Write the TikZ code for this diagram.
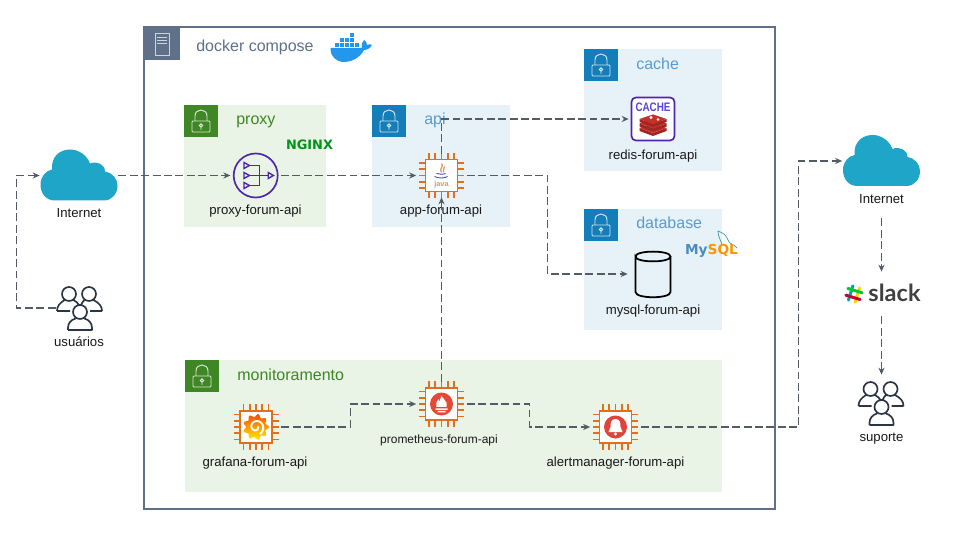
\documentclass[tikz,border=0pt]{standalone}
\usepackage{fontspec}
\usetikzlibrary{arrows.meta}
\setmainfont{Liberation Sans}
\newfontfamily\logofont{DejaVu Sans}
\newfontfamily\slackfont{Lato}

\definecolor{framegray}{HTML}{5F7089}
\definecolor{linegray}{HTML}{545B64}
\definecolor{inkdark}{HTML}{2B3644}
\definecolor{greenbadge}{HTML}{3F8624}
\definecolor{greenfill}{HTML}{E9F3E6}
\definecolor{bluebadge}{HTML}{147EBA}
\definecolor{bluefill}{HTML}{E6F2F8}
\definecolor{bluetext}{HTML}{5A9BCF}
\definecolor{chiporange}{HTML}{E0701E}
\definecolor{lbpurple}{HTML}{4D27AA}
\definecolor{cloudblue}{HTML}{1EA5C8}
\definecolor{whaleblue}{HTML}{2396ED}
\definecolor{alertred}{HTML}{E0433B}
\definecolor{redisred}{HTML}{C6302B}

\tikzset{
  link/.style={draw=linegray, line width=0.65pt, dash pattern=on 4.5pt off 2pt, -{Stealth[length=4pt,width=3.5pt]}},
  iconnode/.style={inner sep=0, minimum width=1cm, minimum height=1cm},
  caption/.style={font=\fontsize{7.5}{9}\selectfont, text=black!90, inner sep=0, anchor=base},
  grouptitle/.style={font=\fontsize{9.1}{11}\selectfont, anchor=base west, inner sep=0},
  pics/lockbadge/.style={code={
    \fill[#1] (0,0) rectangle (34,32);
    \draw[white, opacity=0.8, line width=0.55pt, rounded corners=0.6pt] (8,16) rectangle (26,27);
    \draw[white, opacity=0.8, line width=0.55pt] (11,16) -- (11,11) .. controls (11,3) and (23,3) .. (23,11) -- (23,16);
    \draw[white, opacity=0.8, line width=0.55pt] (17,20.5) circle (1.6) (17,22) -- (17,25);
  }},
  pics/chip/.style={code={
    \foreach \p in {-12.5,-6.25,0,6.25,12.5} {
      \draw[chiporange, line width=0.95pt] (\p,-22.5) -- (\p,22.5);
      \draw[chiporange, line width=0.95pt] (-22.5,\p) -- (22.5,\p);
    }
    \draw[chiporange, line width=1pt, fill=white] (-16,-16) rectangle (16,16);
  }},
  pics/cloudicon/.style={code={
    \fill[cloudblue] (-24,25) .. controls (-33,25) and (-38.5,18) .. (-38.5,9)
      .. controls (-38.5,1) and (-33,-5) .. (-27,-6)
      .. controls (-28,-18) and (-20,-26) .. (-9,-26)
      .. controls (0,-26) and (8,-20) .. (11,-12)
      .. controls (18,-15) and (26,-11) .. (26,-4)
      .. controls (33,-3) and (38.5,3) .. (38.5,10)
      .. controls (38.5,18) and (33,25) .. (25,25) -- cycle;
  }},
  pics/peopleicon/.style={code={
    \draw[inkdark, line width=0.95pt, line join=round]
      (-11,-14) circle (7) (9,-14) circle (7) (0,4) circle (7)
      (-12,22) -- (12,22) -- (12,20) .. controls (12,15) and (9,12) .. (4.5,10.5)
      (-4.5,10.5) .. controls (-9,12) and (-12,15) .. (-12,20) -- (-12,22)
      (-23,3) -- (-10,3) (-23,3) .. controls (-23,-2) and (-20,-5) .. (-15.5,-8)
      (-6.5,-8) .. controls (-4,-6.5) and (-2,-5) .. (-1,-3)
      (22,3) -- (10,3) (22,3) .. controls (22,-2) and (19,-5) .. (13.5,-8)
      (4.5,-8) .. controls (3,-7) and (2,-5) .. (1,-3);
  }},
}

\begin{document}
\begin{tikzpicture}[x=0.02cm, y=-0.02cm]
  \useasboundingbox (0,0) rectangle (960,540);

  % docker frame
  \draw[framegray, line width=0.6pt] (144,27) rectangle (775,509);
  \fill[framegray] (144,27) rectangle (180,60);
  \draw[white, opacity=0.7, line width=0.5pt] (155,33) rectangle (169,55);
  \draw[white, opacity=0.7, line width=0.5pt] (157,37) -- (167,37) (157,40) -- (167,40) (157,43) -- (167,43);
  \node [grouptitle, text=framegray](dockertitle) at (196,51.7) {docker compose};

  % whale
  \fill[whaleblue] (330.5,48) -- (362,48) .. controls (361,45) and (362,42) .. (364,40)
    .. controls (366,41) and (367,43) .. (367,45) .. controls (369,44) and (371,44) .. (372,45)
    .. controls (370,49) and (366,50) .. (364,50) .. controls (360,58) and (351,62) .. (344,62)
    .. controls (336,62) and (330,56) .. (330.5,48) -- cycle;
  \foreach \cx/\cy in {335/43,340/43,345/43,350/43,355/43,340/38,345/38,350/38,350/33}
    \fill[whaleblue] (\cx,\cy) rectangle +(4,4);

  % groups
  \fill[greenfill] (184,105) rectangle (326,227);
  \fill[bluefill] (372,105) rectangle (510,227);
  \fill[bluefill] (584,49) rectangle (722,171);
  \fill[bluefill] (584,209) rectangle (722,330);
  \fill[greenfill] (185,360) rectangle (722,492);
  \pic at (184,105) {lockbadge=greenbadge};
  \pic at (372,105) {lockbadge=bluebadge};
  \pic at (584,49) {lockbadge=bluebadge};
  \pic at (584,209) {lockbadge=bluebadge};
  \pic at (185,360) {lockbadge=greenbadge};
  \node [grouptitle, text=greenbadge](proxytitle) at (236,125) {proxy};
  \node [grouptitle, text=bluetext](apititle) at (424,125) {api};
  \node [grouptitle, text=bluetext](cachetitle) at (636,69.3) {cache};
  \node [grouptitle, text=bluetext](databasetitle) at (636,229) {database};
  \node [grouptitle, text=greenbadge](monitortitle) at (237,380) {monitoramento};

  % icon nodes
  \node [iconnode, minimum width=1.56cm](inetleft) at (79,175.5) {};
  \node [iconnode, minimum width=1.56cm](inetright) at (881.5,161) {};
  \node [iconnode, minimum width=0.96cm, minimum height=0.86cm](usuarios) at (80,308) {};
  \node [iconnode, minimum width=0.96cm, minimum height=1.12cm](suporte) at (881.5,403) {};
  \node [iconnode, minimum width=1.52cm, minimum height=0.88cm](slack) at (881.5,294) {};
  \node [iconnode](proxy) at (255.7,175.5) {};
  \node [iconnode, minimum height=0.86cm](app) at (441.5,175.5) {};
  \node [iconnode, minimum width=0.96cm](redis) at (653,119) {};
  \node [iconnode](mysql) at (653,274) {};
  \node [iconnode](grafana) at (256,427) {};
  \node [iconnode, minimum height=0.88cm](prometheus) at (441.5,404) {};
  \node [iconnode](alertmanager) at (615.5,427) {};

  \pic at (inetleft) {cloudicon};
  \pic at (inetright) {cloudicon};
  \pic at (usuarios) {peopleicon};
  \pic at (suporte) {peopleicon};
  \pic at (app) {chip};
  \pic at (grafana) {chip};
  \pic at (prometheus) {chip};
  \pic at (alertmanager) {chip};

  % nlb icon
  \begin{scope}[shift={(proxy)}]
    \draw[lbpurple, line width=0.95pt] (0,0) circle (22);
    \draw[lbpurple, line width=0.8pt] (-6,-10) -- (3.7,-10) -- (3.7,10) -- (-6,10) (-6,0) -- (12.5,0);
    \foreach \ty in {-10,0,10}
      \draw[lbpurple, line width=0.8pt] (-11.7,\ty-3) -- (-6.3,\ty) -- (-11.7,\ty+3) -- cycle;
    \draw[lbpurple, line width=0.8pt] (12.5,-3) -- (17.7,0) -- (12.5,3) -- cycle;
  \end{scope}
  \node [font=\logofont\bfseries\fontsize{7.35}{9}\selectfont, text=green!60!black!80!teal, inner sep=0, anchor=base](nginxlogo) at (309.5,149.5) {NGINX};

  % java
  \begin{scope}[shift={(app)}]
    \draw[blue!45!gray, line width=0.5pt] (-7,1) .. controls (-3,3) and (3,3) .. (6,1) (-5,-2) .. controls (-2,-1) and (2,-1) .. (4,-2);
    \draw[chiporange!75, line width=0.7pt] (0,-12) .. controls (3,-9) and (-3,-7) .. (0,-3) (3,-9) .. controls (1,-7) and (3,-5) .. (2,-3);
    \node [font=\bfseries\fontsize{4.2}{5}\selectfont, text=chiporange!75, inner sep=0](javalogo) at (0,9) {java};
  \end{scope}

  % redis
  \begin{scope}[shift={(redis)}]
    \draw[lbpurple, line width=0.95pt, fill=white, rounded corners=2.5pt] (-21.5,-21.5) rectangle (21.5,21.5);
    \node [font=\bfseries\fontsize{7}{8}\selectfont, text=lbpurple!60!blue!80!white, inner sep=0](cachelogo) at (0,-11.5) {\scalebox{0.8}[1]{CACHE}};
    \foreach \sy in {9,4.5,0} {
      \fill[redisred!80!black] (-13.5,\sy) -- (0,\sy+5) -- (13.5,\sy) -- (13.5,\sy+3) -- (0,\sy+8) -- (-13.5,\sy+3) -- cycle;
      \fill[redisred] (-13.5,\sy) -- (0,\sy-4.5) -- (13.5,\sy) -- (0,\sy+5) -- cycle;
    }
    \fill[white] (-2,-1.5) circle (1.7) (5,0.5) circle (1.3);
  \end{scope}

  % mysql cylinder
  \begin{scope}[shift={(mysql)}]
    \draw[black, line width=1pt] (-17.5,-17.5) .. controls (-17.5,-24) and (17.5,-24) .. (17.5,-17.5)
      .. controls (17.5,-11) and (-17.5,-11) .. (-17.5,-17.5) -- (-17.5,18)
      .. controls (-17.5,25) and (17.5,25) .. (17.5,18) -- (17.5,-17.5);
  \end{scope}
  \draw[cloudblue!60!gray, line width=0.4pt] (718,231) .. controls (722,233) and (725,233) .. (728,240)
    .. controls (729,244) and (734,244) .. (737,248) (718,231) .. controls (718,237) and (721,240) .. (722,245);
  \node [font=\logofont\bfseries\fontsize{7.8}{9}\selectfont, inner sep=0, anchor=base](mysqllogo) at (711.5,255) {\textcolor{blue!30!teal!70!white}{My}\textcolor{orange!85!yellow}{SQL}};

  % grafana
  \begin{scope}[shift={(grafana)}]
    \shade[top color=orange!60!red, bottom color=yellow!85!orange] plot[domain=0:360, samples=97, variable=\t, smooth cycle]
      ({(11.5+1.5*cos(9*\t))*cos(\t)}, {(11.5+1.5*cos(9*\t))*sin(\t)});
    \draw[white, line width=1.1pt] plot[domain=-20:420, samples=40, variable=\t]
      ({(2+\t/70)*cos(\t)}, {(2+\t/70)*sin(\t)});
  \end{scope}

  % prometheus
  \begin{scope}[shift={(prometheus)}]
    \fill[alertred!90!orange] (0,0) circle (11.5);
    \fill[white] (0,-8.5) .. controls (1,-5) and (3,-6) .. (3,-4) .. controls (5,-3) and (6,0) .. (5,3)
      -- (-5,3) .. controls (-6,0) and (-5,-3) .. (-3,-5) .. controls (-3,-3) and (-2,-2) .. (-2,-3) .. controls (-2,-5) and (0,-6) .. (0,-8.5) -- cycle;
    \fill[white] (-6,4.3) rectangle (6,5.8) (-4,6.8) rectangle (4,8.3);
  \end{scope}

  % bell
  \begin{scope}[shift={(alertmanager)}]
    \fill[alertred] (0,0) circle (11.5);
    \fill[white] (0,-8) .. controls (-5,-8) and (-5,-3) .. (-5,0) .. controls (-5,2) and (-7,3) .. (-7,5)
      -- (7,5) .. controls (7,3) and (5,2) .. (5,0) .. controls (5,-3) and (5,-8) .. (0,-8) -- cycle;
    \fill[white] (0,7) circle (1.7);
  \end{scope}

  % slack
  \begin{scope}[shift={(854,294)}, rotate=-17]
    \draw[teal!70!cyan, line width=1.7pt, line cap=round] (-3.5,-7.5) -- (-3.5,7.5);
    \draw[yellow!70!orange, line width=1.7pt, line cap=round] (3.5,-7.5) -- (3.5,7.5);
    \draw[green!55!teal, line width=1.7pt, line cap=round] (-7.5,-3.5) -- (7.5,-3.5);
    \draw[purple!85!red, line width=1.7pt, line cap=round] (-7.5,3.5) -- (7.5,3.5);
  \end{scope}
  \node [font=\slackfont\bfseries\fontsize{13.4}{16}\selectfont, text=black!75, inner sep=0, anchor=base](slacklogo) at (894.5,301.5) {slack};

  % captions
  \node [caption](inetleftlabel) at (79,218) {Internet};
  \node [caption](inetrightlabel) at (881.5,204) {Internet};
  \node [caption](usuarioslabel) at (79,347) {usuários};
  \node [caption](suportelabel) at (881.5,441) {suporte};
  \node [caption](proxylabel) at (255.5,215) {proxy-forum-api};
  \node [caption](applabel) at (441,215) {app-forum-api};
  \node [caption](redislabel) at (653,160) {redis-forum-api};
  \node [caption](mysqllabel) at (653,315) {mysql-forum-api};
  \node [caption](grafanalabel) at (255,466.5) {grafana-forum-api};
  \node [caption, font=\fontsize{6.8}{9}\selectfont](prometheuslabel) at (439,443) {prometheus-forum-api};
  \node [caption](alertmanagerlabel) at (615.5,466.5) {alertmanager-forum-api};

  % connectors
  \draw[link] (usuarios.west) -- ++(-39,0) |- (inetleft.west);
  \draw[link] (inetleft.east) -- (proxy.west);
  \draw[link] (proxy.east) -- (app.west);
  \draw[link] (app.north) |- (redis.west);
  \draw[link] (app.east) -- ++(81,0) |- (mysql.west);
  \draw[link] (grafana.east) -- ++(69,0) |- (prometheus.west);
  \draw[link] (prometheus.north) -- (app.south);
  \draw[link] (prometheus.east) -- ++(63,0) |- (alertmanager.west);
  \draw[link] (alertmanager.east) -- ++(158,0) |- (inetright.west);
  \draw[link, shorten <=0.28cm] (inetrightlabel.south) -- (slack.north);
  \draw[link] (slack.south) -- (suporte.north);
\end{tikzpicture}
\end{document}
